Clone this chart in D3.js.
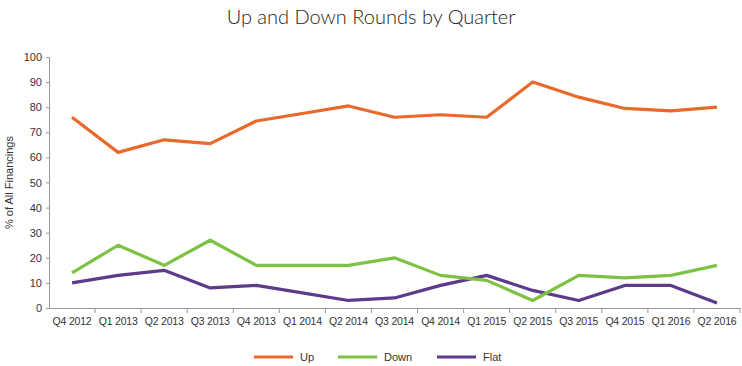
<!DOCTYPE html>
<html>
<head>
<meta charset="utf-8">
<script src="https://cdn.jsdelivr.net/npm/d3@7"></script>
<style>
  body { margin: 0; background: #fff; }
  svg { font-family: "Liberation Sans", Arial, sans-serif; }
</style>
</head>
<body>
<svg id="chart" width="742" height="366"></svg>
<script>
//  data
const quarters = ["Q4 2012", "Q1 2013", "Q2 2013", "Q3 2013", "Q4 2013", "Q1 2014", "Q2 2014",
                  "Q3 2014", "Q4 2014", "Q1 2015", "Q2 2015", "Q3 2015", "Q4 2015", "Q1 2016", "Q2 2016"];
const up_values   = [76, 62, 67, 65.5, 74.5, 77.5, 80.5, 76, 77, 76, 90, 84, 79.5, 78.5, 80];
const down_values = [14, 25, 17, 27, 17, 17, 17, 20, 13, 11, 3, 13, 12, 13, 17];
const flat_values = [10, 13, 15, 8, 9, 6, 3, 4, 9, 13, 7, 3, 9, 9, 2];
const y_ticks = [0, 10, 20, 30, 40, 50, 60, 70, 80, 90, 100];

const series = [
  {name: "Up",   values: up_values,   color: "#E8692A"},
  {name: "Down", values: down_values, color: "#7DC242"},
  {name: "Flat", values: flat_values, color: "#5C3B8C"}
];

//  draw line chart
function draw_chart() {
  const margin = ({top: 57, right: 2, bottom: 58, left: 49});
  const w = 742, h = 366;
  const svg = d3.select("#chart");

  const x = d3.scaleBand().domain(quarters).range([margin.left, w - margin.right]);
  const y = d3.scaleLinear().domain([0, 100]).range([h - margin.bottom, margin.top]);

  //  title
  svg.append("text")
     .attr("x", 371).attr("y", 24)
     .attr("text-anchor", "middle")
     .style("font-family", "Lato, 'Open Sans', sans-serif")
     .style("font-weight", 300)
     .style("font-size", "20px")
     .attr("fill", "#222")
     .text("Up and Down Rounds by Quarter");

  //  y label
  svg.append("text")
     .attr("transform", `translate(13,${(margin.top + h - margin.bottom) / 2}) rotate(-90)`)
     .attr("text-anchor", "middle")
     .style("font-size", "11px")
     .attr("fill", "#333")
     .text("% of All Financings");

  //  x axis, ticks at category boundaries
  const gx = svg.append("g")
     .attr("transform", `translate(0,${h - margin.bottom})`)
     .call(d3.axisBottom(x).tickSize(0).tickPadding(10));
  gx.selectAll(".tick text").style("font-size", "10.5px").attr("letter-spacing", "-0.2").attr("fill", "#333");
  gx.select(".domain").attr("stroke", "#999");
  gx.selectAll("line.bound")
    .data(quarters)
    .join("line")
    .attr("class", "bound")
    .attr("x1", d => x(d) + x.bandwidth()).attr("x2", d => x(d) + x.bandwidth())
    .attr("y1", 0).attr("y2", 5)
    .attr("stroke", "#999");

  //  y axis
  const gy = svg.append("g")
     .attr("transform", `translate(${margin.left},0)`)
     .call(d3.axisLeft(y).tickValues(y_ticks).tickSize(3).tickPadding(4));
  gy.selectAll(".tick text").style("font-size", "11px").attr("fill", "#333");
  gy.selectAll(".tick line").attr("stroke", "#999");
  gy.select(".domain").attr("stroke", "#999");

  //  lines
  const line = d3.line()
    .x((d, i) => x(quarters[i]) + x.bandwidth() / 2)
    .y(d => y(d));

  series.slice().reverse().forEach(s => {
    svg.append("path")
       .datum(s.values)
       .attr("d", line)
       .attr("fill", "none")
       .attr("stroke", s.color)
       .attr("stroke-width", 3.2)
       .attr("stroke-linejoin", "round");
  });

  //  legend
  const legend_x = [254, 338, 437];
  series.forEach((s, i) => {
    const g = svg.append("g").attr("transform", `translate(${legend_x[i]},357)`);
    g.append("line")
     .attr("x1", 0).attr("x2", 39).attr("y1", 0).attr("y2", 0)
     .attr("stroke", s.color).attr("stroke-width", 3.2);
    g.append("text")
     .attr("x", 46).attr("y", 4)
     .style("font-size", "11px")
     .attr("fill", "#333")
     .text(s.name);
  });
}

draw_chart();
</script>
</body>
</html>
